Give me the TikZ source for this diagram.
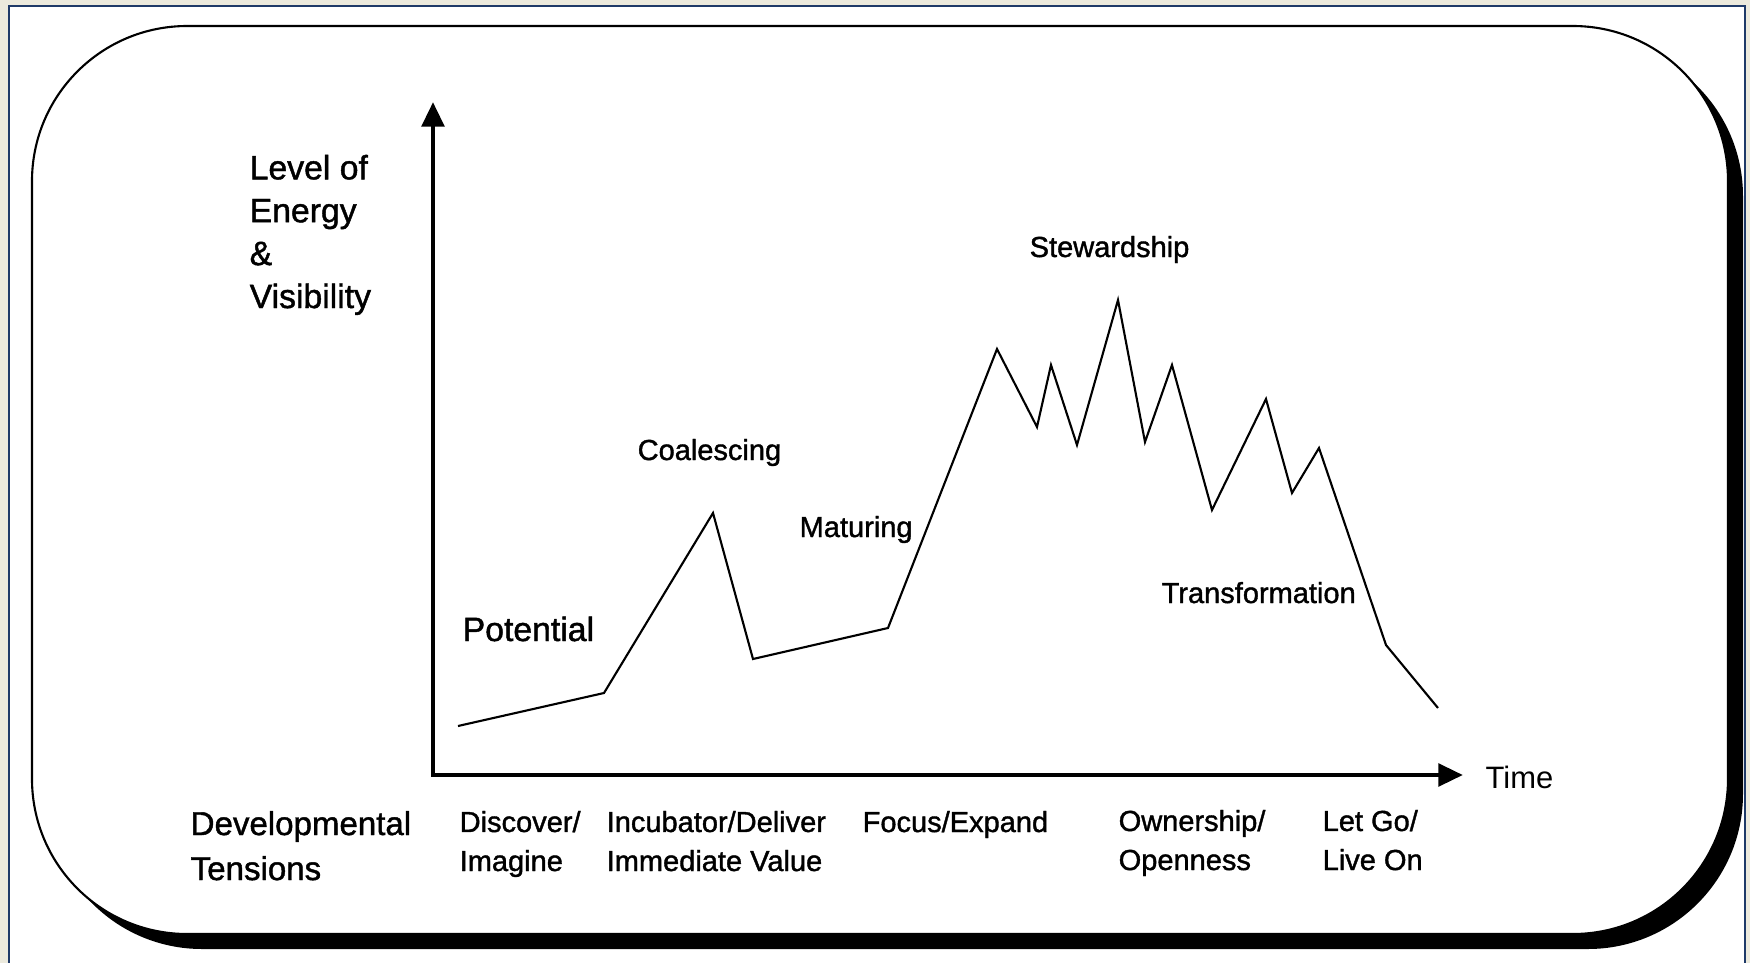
\documentclass[tikz,border=0pt]{standalone}
\usepackage{fontspec}
\setmainfont{Liberation Sans}[AutoFakeBold=1.3]
\newfontfamily\timefont{Liberation Sans}
\usetikzlibrary{arrows.meta,positioning}

\definecolor{paper}{HTML}{ECEADD}
\definecolor{frameblue}{HTML}{1F3A68}

\tikzset{
	lbl/.style={inner sep=0pt, anchor=base west, font=\fontsize{8.25pt}{11.1pt}\selectfont\bfseries},
	devlbl/.style={lbl, align=left},
	biglbl/.style={inner sep=0pt, anchor=base west, align=left, font=\fontsize{9.6pt}{12.2pt}\selectfont\bfseries},
	axis/.style={line width=1.4pt, {Triangle[length=7pt,width=6.3pt]}-{Triangle[length=7pt,width=6.3pt]}},
	curve/.style={line width=0.6pt},
}

\begin{document}
\begin{tikzpicture}[x=0.01cm,y=-0.01cm]
	\clip (0,0) rectangle (1750,963);
	\fill[paper] (0,0) rectangle (1750,963);
	\draw[frameblue, line width=0.8pt, fill=white] (9,6) rectangle (1745,1000);
	\fill[black, rounded corners=1.55cm] (47,41) rectangle (1743,949);
	\draw[fill=white, line width=0.6pt, rounded corners=1.55cm] (32,26) rectangle (1728,934);

	\coordinate		(ytop)	at (433,102);
	\coordinate		(o)		at (433,775);
	\coordinate		(xend)	at (1463,775);
	\draw[axis]		(ytop) -- (o) -- (xend);

	\coordinate		(p1)	at (458,726);
	\coordinate		(p2)	at (604,693);
	\coordinate		(p3)	at (713,513);
	\coordinate		(p4)	at (753,659);
	\coordinate		(p5)	at (888,628);
	\coordinate		(p6)	at (997,349);
	\coordinate		(p7)	at (1037,427);
	\coordinate		(p8)	at (1051,365);
	\coordinate		(p9)	at (1077,445);
	\coordinate		(p10)	at (1118,300);
	\coordinate		(p11)	at (1145,442);
	\coordinate		(p12)	at (1172,365);
	\coordinate		(p13)	at (1212,510);
	\coordinate		(p14)	at (1266,399);
	\coordinate		(p15)	at (1292,493);
	\coordinate		(p16)	at (1319,448);
	\coordinate		(p17)	at (1386,645);
	\coordinate		(p18)	at (1438,708);
	\draw[curve]	(p1) -- (p2) -- (p3) -- (p4) -- (p5) -- (p6) -- (p7) -- (p8) -- (p9)
					-- (p10) -- (p11) -- (p12) -- (p13) -- (p14) -- (p15) -- (p16) -- (p17) -- (p18);

	\node[biglbl]	(level)		at (249,308)	{Level of\\Energy\\\&\\Visibility};
	\node[lbl, font=\fontsize{8.8pt}{10pt}\timefont]	(time)	at (1485,788)	{Time};

	\node[lbl, font=\fontsize{9.6pt}{11pt}\selectfont\bfseries]	(potential)	at (462,641)	{Potential};
	\node[lbl]		(coalescing)	at (637,460)	{Coalescing};
	\node[lbl]		(maturing)		at (799,537)	{Maturing};
	\node[lbl]		(stewardship)	at (1029,257)	{Stewardship};
	\node[lbl]		(transform)		at (1161,603)	{Transformation};

	\node[biglbl, font=\fontsize{9.4pt}{12.8pt}\selectfont\bfseries]	(tensions)	at (190,880)	{Developmental\\Tensions};
	\node[devlbl]	(discover)		at (459,871)	{Discover/\\Imagine};
	\node[devlbl]	(incubator)		at (606,871)	{Incubator/Deliver\\Immediate Value};
	\node[devlbl]	(focus)			at (862,832)	{Focus/Expand};
	\node[devlbl]	(ownership)		at (1118,870)	{Ownership/\\Openness};
	\node[devlbl]	(letgo)			at (1322,870)	{Let Go/\\Live On};
\end{tikzpicture}
\end{document}
